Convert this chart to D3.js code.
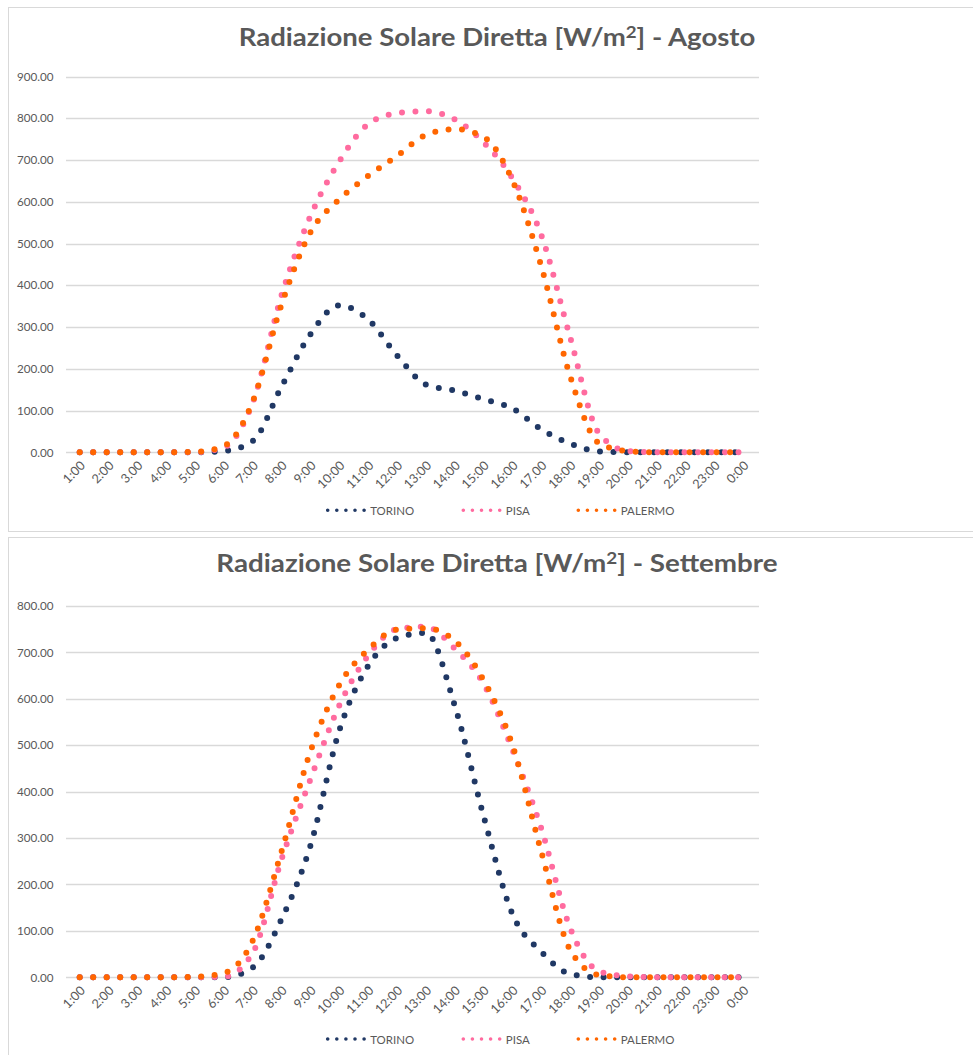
<!DOCTYPE html>
<html>
<head>
<meta charset="utf-8">
<script src="https://cdn.jsdelivr.net/npm/d3@7"></script>
<style>
  body { margin: 0; background: #fff; }
  text { font-family: Lato, "Liberation Sans", sans-serif; }
</style>
</head>
<body>
<div id="my_dataviz"></div>
<script>
// hours on the x axis (as they are written in the original sheet)
var hours = ["1:00", "2:00", "3.00", "4:00", "5:00", "6:00", "7:00", "8:00", "9:00", "10:00", "11:00", "12:00",
    "13:00", "14:00", "15:00", "16:00", "17.00", "18:00", "19:00", "20:00", "21:00", "22:00", "23:00", "0:00"]

var cities = ["TORINO", "PISA", "PALERMO"]

// Agosto, W/m2
var torinoAgosto = [0, 0, 0, 0, 0, 3, 27, 158, 283, 352, 318, 232, 162, 148, 127, 105, 55, 21, 2, 0, 0, 0, 0, 0]
var pisaAgosto = [0, 0, 0, 0, 0, 12, 120, 377, 566, 697, 786, 812, 817, 797, 742, 656, 520, 275, 45, 3, 0, 0, 0, 0]
var palermoAgosto = [0, 0, 0, 0, 1, 15, 122, 355, 527, 606, 662, 710, 760, 774, 755, 651, 445, 182, 22, 3, 0, 0, 0, 0]

// Settembre, W/m2
var torinoSettembre = [0, 0, 0, 0, 0, 0, 21, 126, 284, 532, 671, 731, 742, 585, 347, 136, 55, 7, 0, 0, 0, 0, 0, 0]
var pisaSettembre = [0, 0, 0, 0, 0, 1, 53, 255, 427, 586, 693, 750, 755, 708, 632, 490, 320, 106, 13, 2, 0, 0, 0, 0]
var palermoSettembre = [0, 0, 0, 0, 1, 9, 79, 272, 487, 630, 706, 749, 752, 725, 640, 500, 270, 59, 5, 0, 0, 0, 0, 0]

var width = 973
var height = 1055
var colors = ["#203864", "#ff6b9f", "#ff6600"]
var textColor = "#595959"
var gridColor = "#d9d9d9"

var svg = d3.select("#my_dataviz")
    .append("svg")
    .attr("width", width)
    .attr("height", height)

// font size that gives a sample string the wanted width
function fitSize(sample, target, weight) {
    var t = svg.append("text")
        .style("font-size", "20px")
        .style("font-weight", weight || "normal")
        .text(sample)
    var w = t.node().getComputedTextLength()
    t.remove()
    return 20 * target / w
}

var yLabelSize = fitSize("900.00", 36.6)
var xLabelSize = fitSize("10:00", 32.5)
var legendSize = fitSize("TORINO", 44)

// the two chart frames
svg.append("rect")
    .attr("x", 8.5).attr("y", 7.5)
    .attr("width", 990).attr("height", 524)
    .attr("fill", "#fff").attr("stroke", gridColor)
svg.append("rect")
    .attr("x", 8.5).attr("y", 537.5)
    .attr("width", 990).attr("height", 540)
    .attr("fill", "#fff").attr("stroke", gridColor)

// x positions are the same for both charts
var x = d3.scalePoint()
    .domain(hours)
    .range([79.7, 743.3])

function drawChart(month, series, yMax, yBottom, yTop, titleY, titleWidth, legendY) {
    var g = svg.append("g")

    var y = d3.scaleLinear()
        .domain([0, yMax])
        .range([yBottom, yTop])

    // title (kept at its height, stretched to the width of the original)
    var tg = g.append("g")
    var title = tg.append("text")
        .attr("text-anchor", "middle")
        .attr("fill", textColor)
        .style("font-size", "24px")
        .style("font-weight", "bold")
    title.append("tspan").text("Radiazione Solare Diretta [W/m")
    title.append("tspan").attr("dy", "-0.5em").style("font-size", "0.68em").text("2")
    title.append("tspan").attr("dy", "0.34em").text("] - " + month)
    var tw = title.node().getBBox().width
    tg.attr("transform", "translate(497," + titleY + ") scale(" + (titleWidth / tw) + ",1)")

    // gridlines + y labels
    var ticks = d3.range(0, yMax + 1, 100)
    g.selectAll(".grid")
        .data(ticks)
        .enter()
        .append("line")
        .attr("x1", 66).attr("x2", 759)
        .attr("y1", function (d) { return Math.round(y(d)) + 0.5 })
        .attr("y2", function (d) { return Math.round(y(d)) + 0.5 })
        .attr("stroke", gridColor)
        .attr("stroke-width", 1.3)

    g.selectAll(".ylab")
        .data(ticks)
        .enter()
        .append("text")
        .attr("x", 53.5)
        .attr("y", function (d) { return y(d) })
        .attr("dy", "0.36em")
        .attr("text-anchor", "end")
        .attr("fill", textColor)
        .style("font-size", yLabelSize + "px")
        .text(d3.format(".2f"))

    // x labels, rotated
    g.selectAll(".xlab")
        .data(hours)
        .enter()
        .append("text")
        .attr("transform", function (d) { return "translate(" + (x(d) + 3) + "," + (yBottom + 11) + ") rotate(-45)" })
        .attr("dy", "0.35em")
        .attr("text-anchor", "end")
        .attr("fill", textColor)
        .style("font-size", xLabelSize + "px")
        .text(function (d) { return d })

    // dotted smooth lines
    var line = d3.line()
        .x(function (d, i) { return x(hours[i]) })
        .y(function (d) { return y(d) })
        .curve(d3.curveMonotoneX)

    g.selectAll(".serie")
        .data(series)
        .enter()
        .append("path")
        .attr("d", line)
        .attr("fill", "none")
        .attr("stroke", function (d, i) { return colors[i] })
        .attr("stroke-width", 6)
        .attr("stroke-linecap", "round")
        .attr("stroke-dasharray", "0 13.5")

    // legend
    var legendX = [327.7, 463.3, 578.3]
    var leg = g.selectAll(".leg")
        .data(cities)
        .enter()
        .append("g")
        .attr("transform", function (d, i) { return "translate(" + legendX[i] + "," + legendY + ")" })
    leg.append("line")
        .attr("x1", 0).attr("x2", 36.5)
        .attr("y1", 0).attr("y2", 0)
        .attr("stroke", function (d, i) { return colors[i] })
        .attr("stroke-width", 3.6)
        .attr("stroke-linecap", "round")
        .attr("stroke-dasharray", "0 9.1")
    leg.append("text")
        .attr("x", 42.5)
        .attr("y", 4.6)
        .attr("fill", textColor)
        .style("font-size", legendSize + "px")
        .text(function (d) { return d })
}

drawChart("Agosto", [torinoAgosto, pisaAgosto, palermoAgosto], 900, 452.3, 76.5, 45.7, 517, 510.3)
drawChart("Settembre", [torinoSettembre, pisaSettembre, palermoSettembre], 800, 977.3, 605.9, 572, 562, 1039)
</script>
</body>
</html>
